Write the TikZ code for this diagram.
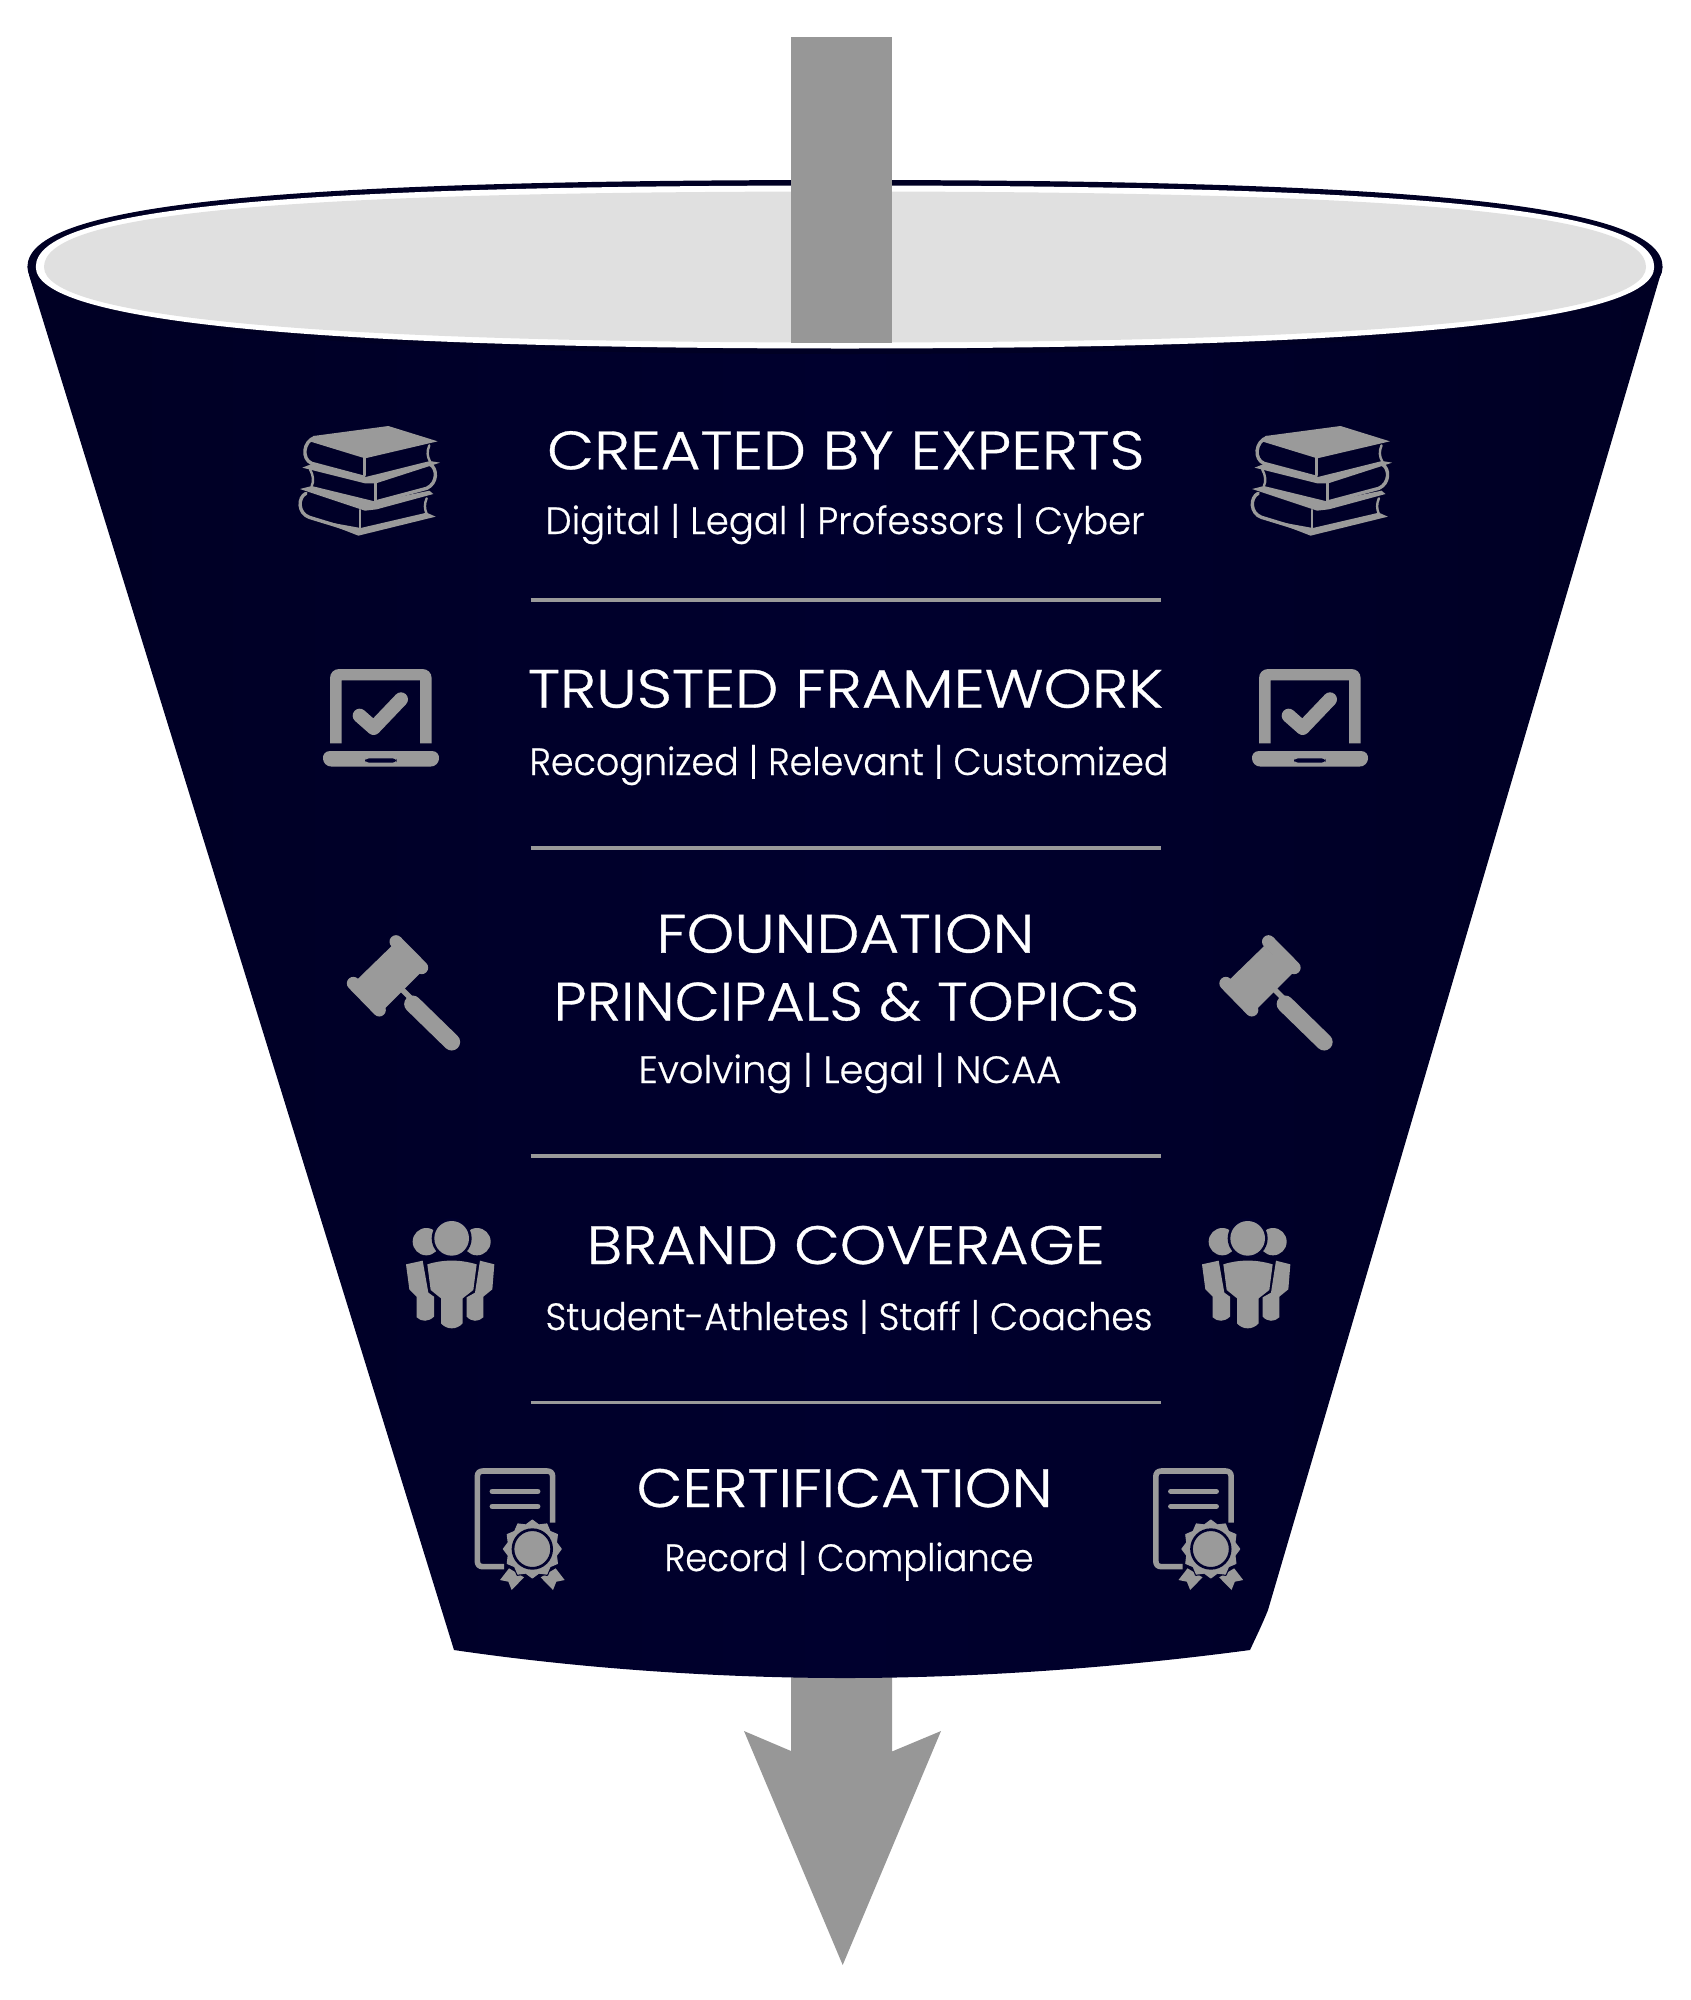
\documentclass[tikz,border=0pt]{standalone}
\usepackage{fontspec}
\usepackage{graphicx}
\setmainfont[UprightFont=* Light,RawFeature={embolden=0.6}]{Poppins}
\definecolor{navyA}{HTML}{000024}
\definecolor{navyB}{HTML}{00002E}
\definecolor{rimgray}{HTML}{E0E0E0}
\definecolor{arrowgray}{HTML}{979797}
\definecolor{icongray}{HTML}{9A9A9A}
\newcommand{\rimshape}[2]{(845-#1,267) .. controls ({845-#1},{267-.71*#2}) and ({845-.71*#1},{267-#2}) .. (845,{267-#2}) .. controls ({845+.71*#1},{267-#2}) and ({845+#1},{267-.71*#2}) .. ({845+#1},267) .. controls ({845+#1},{267+.665*#2}) and ({845+.665*#1},{267+#2}) .. (845,{267+#2}) .. controls ({845-.665*#1},{267+#2}) and ({845-#1},{267+.665*#2}) .. ({845-#1},267) -- cycle}
\newcommand{\ttl}[2]{\resizebox{\dimexpr#1pt+5pt\relax}{\height}{\fontsize{54}{54}\selectfont #2}}
\newcommand{\sbt}[2]{\resizebox{\dimexpr#1pt+5pt\relax}{\height}{\fontsize{38}{38}\selectfont #2}}
\tikzset{
  txt/.style={anchor=base west,inner sep=0pt,outer sep=0pt,text=white,xshift=-2.5pt},
  rule/.style={draw=icongray,line width=3.4pt},
  icon/.style={fill=icongray,draw=none},
  iconline/.style={draw=icongray,fill=none,line cap=round,line join=round},
  books/.pic={
    \begin{scope}[scale=1/3]
      % book 1
      \draw[iconline,line width=3.4pt] (135,112) .. controls (98,125) and (95,178) .. (125,190) -- (283,232);
      \draw[iconline,line width=2.4pt] (283,172) -- (283,226);
      \draw[iconline,line width=2.4pt] (478,136) .. controls (470,155) and (472,170) .. (480,184);
      \path[icon] (130,108) -- (355,78) -- (503,124) -- (285,175) -- (122,125) -- cycle;
      % book 2
      \path[icon] (97,203) -- (125,192) -- (283,232) -- (480,183) -- (510,188) -- (318,250) -- (285,250) -- cycle;
      \draw[iconline,line width=2.4pt] (120,208) .. controls (130,225) and (132,245) .. (125,258);
      \draw[iconline,line width=2.4pt] (316,250) -- (316,305);
      \draw[iconline,line width=3.4pt] (320,305) -- (470,265) .. controls (503,250) and (503,205) .. (480,193);
      % book 3
      \path[icon] (90,267) -- (125,258) -- (318,305) -- (478,272) -- (490,282) -- (320,328) -- (285,332) -- cycle;
      \draw[iconline,line width=3.4pt] (108,280) .. controls (83,292) and (83,340) .. (118,352) -- (262,396);
      \draw[iconline,line width=2.4pt] (270,330) -- (270,388);
      \draw[iconline,line width=2.4pt] (470,295) .. controls (463,312) and (463,325) .. (470,342);
      \path[icon] (150,362) -- (265,407) -- (497,350) -- (470,338) -- (272,384) -- cycle;
    \end{scope}
  },
  laptop/.pic={
    \begin{scope}[scale=1/3]
      \path[icon,even odd rule] (180,1030) -- (180,835) .. controls (180,818) and (192,807) .. (208,807) -- (457,807) .. controls (473,807) and (485,818) .. (485,835) -- (485,1030) -- (450,1030) -- (450,841) -- (215,841) -- (215,1030) -- cycle;
      \draw[iconline,line width=14pt] (269,947) -- (311,984) -- (393,898);
      \path[icon] (180,1053) -- (486,1053) .. controls (516,1053) and (514,1100) .. (480,1100) -- (186,1100) .. controls (152,1100) and (150,1053) .. (180,1053) -- cycle;
      \path[fill=navyB,rounded corners=4pt] (285,1075) rectangle (380,1088);
    \end{scope}
  },
  gavel/.pic={
    \begin{scope}[scale=1/3]
      \draw[iconline,line width=13pt] (228,65) -- (305,143);
      \draw[iconline,line width=13pt] (100,190) -- (178,270);
      \path[icon] (215,78) -- (300,160) -- (192,268) -- (108,182) -- cycle;
      \draw[iconline,line width=5.5pt,line cap=butt] (238,200) -- (275,238);
      \draw[iconline,line width=17pt] (278,252) -- (395,366);
    \end{scope}
  },
  people/.pic={
    \begin{scope}[scale=1/3]
      \path[icon] (319,965) circle[radius=41];
      \path[icon] (471,965) circle[radius=41];
      \path[fill=navyB] (395,955) circle[radius=60];
      \path[icon] (395,955) circle[radius=52];
      \path[icon] (322,1033) .. controls (370,1018) and (420,1018) .. (470,1033) -- (460,1110) -- (428,1135) -- (428,1210) .. controls (410,1230) and (380,1230) .. (363,1210) -- (363,1135) -- (332,1110) -- cycle;
      \path[icon] (258,1033) -- (308,1022) -- (325,1118) -- (342,1130) -- (342,1190) .. controls (325,1206) and (305,1206) .. (290,1192) -- (290,1130) -- (268,1108) -- cycle;
      \path[icon] (523,1033) -- (480,1022) -- (465,1118) -- (440,1132) -- (440,1190) .. controls (455,1206) and (475,1206) .. (490,1192) -- (490,1130) -- (517,1108) -- cycle;
    \end{scope}
  },
  cert/.pic={
    \begin{scope}[scale=1/3]
      \draw[iconline,line width=5.6pt,line cap=butt] (338,248) -- (338,110) .. controls (338,99) and (332,93) .. (321,93) -- (129,93) .. controls (118,93) and (112,99) .. (112,110) -- (112,363) .. controls (112,374) and (118,380) .. (129,380) -- (192,380);
      \draw[iconline,line width=5.6pt] (157,154) -- (293,154);
      \draw[iconline,line width=5.6pt] (157,199) -- (293,199);
      \path[icon] (207,385) -- (252,412) -- (215,450) -- (205,425) -- (180,420) -- cycle;
      \path[icon] (347,385) -- (302,412) -- (339,450) -- (349,425) -- (374,420) -- cycle;
      \path[fill=icongray,draw=navyB,line width=1.8pt,line join=round] plot[samples at={0,...,23}] ({277+(mod(\x,2)==0?90:77)*sin(15*\x)},{327-(mod(\x,2)==0?90:77)*cos(15*\x)}) -- cycle;
      \path[fill=icongray,draw=icongray,line width=1pt,line join=round] plot[samples at={0,...,23}] ({277+(mod(\x,2)==0?87:75)*sin(15*\x)},{327-(mod(\x,2)==0?87:75)*cos(15*\x)}) -- cycle;
      \draw[navyB,line width=2.7pt] (277,327) circle[radius=58];
    \end{scope}
  }
}
\begin{document}
\begin{tikzpicture}[x=1pt,y=-1pt]
\useasboundingbox (0,0) rectangle (1690,2000);
% bottom arrow
\path[fill=arrowgray] (791,1670) -- (892,1670) -- (892,1751.5) -- (941,1731) -- (842.7,1965) -- (744,1731) -- (791,1751) -- cycle;
% funnel body
\shade[left color=navyA,right color=navyA,middle color=navyB] (29,275) -- (454,1650) .. controls (590,1670) and (730,1678) .. (845,1678) .. controls (960,1678) and (1100,1670) .. (1250,1650) .. controls (1256,1637) and (1262,1625) .. (1268,1610) -- (1661,273) -- cycle;
\path[fill=navyA] \rimshape{817.6}{87};
\path[fill=white] \rimshape{809.2}{81.5};
\path[fill=rimgray] \rimshape{801}{75.5};
% top bar
\path[fill=arrowgray] (790.7,37.3) rectangle (892.3,342.5);
% separators
\draw[rule] (530.5,600) -- (1160.6,600);
\draw[rule] (530.5,848) -- (1160.6,848);
\draw[rule] (530.5,1156) -- (1160.6,1156);
\draw[rule] (530.5,1402.5) -- (1160.6,1402.5);
% texts
\node[txt] (t1) at (549.5,469.3) {\ttl{592.5}{CREATED BY EXPERTS}};
\node[txt] (s1) at (548,534) {\sbt{594}{Digital | Legal | Professors | Cyber}};
\node[txt] (t2) at (530.5,707.7) {\ttl{630}{TRUSTED FRAMEWORK}};
\node[txt] (s2) at (532,775) {\sbt{634}{Recognized | Relevant | Customized}};
\node[txt] (t3a) at (659,952.6) {\ttl{373}{FOUNDATION}};
\node[txt] (t3b) at (556,1020.5) {\ttl{580.6}{PRINCIPALS \& TOPICS}};
\node[txt] (s3) at (641,1083) {\sbt{417.7}{Evolving | Legal | NCAA}};
\node[txt] (t4) at (589.4,1264) {\ttl{512.6}{BRAND COVERAGE}};
\node[txt] (s4) at (548,1330) {\sbt{602}{Student-Athletes | Staff | Coaches}};
\node[txt] (t5) at (639,1507) {\ttl{411}{CERTIFICATION}};
\node[txt] (s5) at (667,1571) {\sbt{364}{Record | Compliance}};
% icons
\pic at (270,400) {books};
\pic at (1222.2,400) {books};
\pic at (270,400) {laptop};
\pic at (1199,400) {laptop};
\pic at (320,920) {gavel};
\pic at (1192.5,920) {gavel};
\pic at (320,920) {people};
\pic at (1116,920) {people};
\pic at (440,1440) {cert};
\pic at (1118.5,1440) {cert};
\end{tikzpicture}
\end{document}
